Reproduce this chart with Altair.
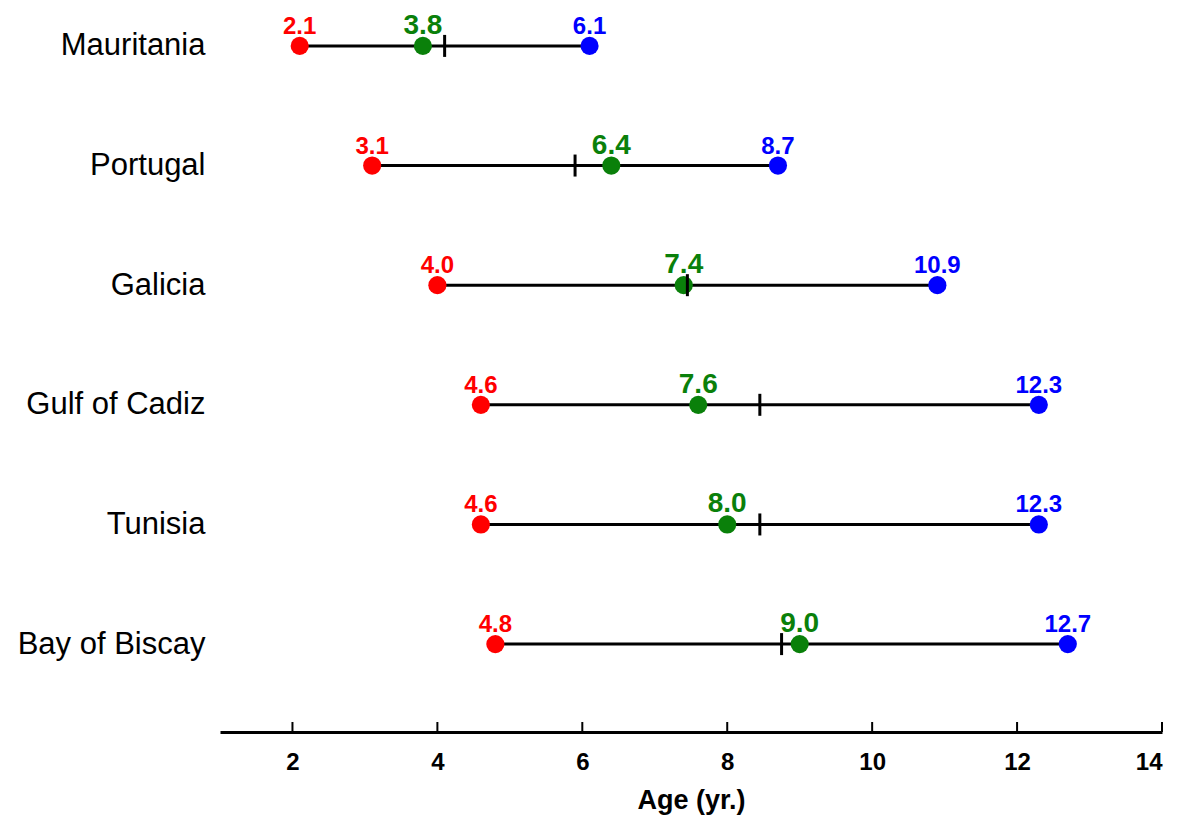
import altair as alt
import pandas as pd

regions = ["Mauritania", "Portugal", "Galicia", "Gulf of Cadiz", "Tunisia", "Bay of Biscay"]
min_age = [2.1, 3.1, 4.0, 4.6, 4.6, 4.8]
mean_age = [3.8, 6.4, 7.4, 7.6, 8.0, 9.0]
max_age = [6.1, 8.7, 10.9, 12.3, 12.3, 12.7]
mid_age = [4.1, 5.9, 7.45, 8.45, 8.45, 8.75]
tick_values = [2, 4, 6, 8, 10, 12, 14]

df = pd.DataFrame({
    "region": regions,
    "min": min_age,
    "mean": mean_age,
    "max": max_age,
    "mid": mid_age,
    "min_lbl": [f"{v:.1f}" for v in min_age],
    "mean_lbl": [f"{v:.1f}" for v in mean_age],
    "max_lbl": [f"{v:.1f}" for v in max_age],
})
ticks_df = pd.DataFrame({"t": tick_values})

NUM_FONT = "Liberation Sans Narrow, Liberation Sans, Arial"
W, H = 942, 658
OFF = 58

x_scale = alt.Scale(domain=[1, 14], nice=False, zero=False)
y_scale = alt.Scale(type="point", domain=regions, padding=0.25)

x_axis = alt.Axis(
    values=tick_values, format="d", title="Age (yr.)", grid=False, ticks=False,
    domain=True, domainColor="black", domainWidth=3, offset=OFF,
    labelFont=NUM_FONT, labelFontWeight="bold", labelFontSize=24, labelColor="black",
    labelPadding=18, titleFont=NUM_FONT, titleFontWeight="bold", titleFontSize=27,
    titleColor="black", titlePadding=13,
)
y_axis = alt.Axis(
    title=None, domain=False, ticks=False, grid=False, labelFont="Liberation Sans",
    labelFontSize=31, labelColor="black", labelPadding=15, labelFontWeight="normal",
    labelLimit=0,
)

base = alt.Chart(df)

line = base.mark_rule(color="black", strokeWidth=3).encode(
    x=alt.X("min:Q", scale=x_scale, axis=x_axis),
    x2="max:Q",
    y=alt.Y("region:N", scale=y_scale, axis=y_axis),
)

def dots(field, color):
    return base.mark_circle(size=330, color=color, opacity=1).encode(
        x=alt.X(f"{field}:Q", scale=x_scale),
        y=alt.Y("region:N", scale=y_scale),
    )

def labels(field, color, size):
    return base.mark_text(
        color=color, font=NUM_FONT, fontWeight="bold", fontSize=size,
        baseline="alphabetic", align="center", dy=-12,
    ).encode(
        x=alt.X(f"{field[:-4]}:Q", scale=x_scale),
        y=alt.Y("region:N", scale=y_scale),
        text=f"{field}:N",
    )

mid_ticks = base.mark_tick(color="black", orient="vertical", size=22, thickness=3, opacity=1).encode(
    x=alt.X("mid:Q", scale=x_scale),
    y=alt.Y("region:N", scale=y_scale),
)

axis_ticks = alt.Chart(ticks_df).mark_rule(color="black", strokeWidth=2).encode(
    x=alt.X("t:Q", scale=x_scale),
    y=alt.value(H + OFF),
    y2=alt.value(H + OFF - 10),
)

chart = alt.layer(
    line,
    dots("min", "#FF0000"),
    dots("mean", "#0A800A"),
    dots("max", "#0000FF"),
    mid_ticks,
    labels("min_lbl", "#FF0000", 24),
    labels("mean_lbl", "#0A800A", 28),
    labels("max_lbl", "#0000FF", 24),
    axis_ticks,
).properties(
    width=W, height=H,
    autosize=alt.AutoSizeParams(type="none"),
    padding={"left": 212, "top": 8, "right": 11, "bottom": 146},
    background="white",
).configure_view(stroke=None)

chart.save("out.html", embed_options={"renderer": "svg", "actions": False})
